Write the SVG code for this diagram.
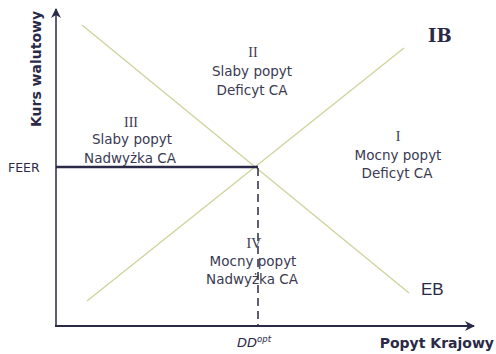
<svg xmlns="http://www.w3.org/2000/svg" width="496" height="354" viewBox="0 0 496 354">
<style>
.q{font-family:"DejaVu Sans",Verdana,sans-serif;font-size:13.5px;fill:#3a3a52;text-anchor:middle}
.r{font-family:"Liberation Serif","Times New Roman",serif;font-size:14px;fill:#3a3a52;text-anchor:middle}
.curve{stroke:#cfd29a;stroke-width:1.3;fill:none}
.ax{stroke-width:2;fill:none}
.lbl{font-family:"DejaVu Sans",Verdana,sans-serif;fill:#2a2a48}
</style>
<defs>
<marker id="ah" viewBox="0 0 10 10" refX="9" refY="5" markerWidth="10" markerHeight="10" markerUnits="userSpaceOnUse" orient="auto">
<path d="M0,0 L10,5 L0,10 L3,5 Z" fill="#2a2a48"/>
</marker>
</defs>
<rect width="496" height="354" fill="#ffffff"/>
<g id="connectors">
<line id="y-axis" class="ax" x1="56" y1="327" x2="56" y2="9" stroke="#5e5e7a" marker-end="url(#ah)"/>
<line id="x-axis" class="ax" x1="55" y1="326" x2="474" y2="326" stroke="#2a2a48" marker-end="url(#ah)"/>
<line id="EB" class="curve" x1="82" y1="25" x2="409" y2="293"/>
<line id="IB" class="curve" x1="87" y1="301" x2="404" y2="48"/>
<line id="feer-line" x1="56" y1="167" x2="258" y2="167" stroke="#2a2a48" stroke-width="2.5"/>
<line id="dd-line" x1="258" y1="168" x2="258" y2="326" stroke="#2a2a48" stroke-width="1.5" stroke-dasharray="8,5"/>
</g>
<g id="axis-labels">
<text class="lbl" font-weight="bold" font-size="14" text-anchor="middle" transform="translate(41,69) rotate(-90)">Kurs walutowy</text>
<text class="lbl" font-weight="bold" font-size="14" x="494" y="348" text-anchor="end">Popyt Krajowy</text>
<text class="lbl" font-size="12.5" x="8" y="172" fill="#333344">FEER</text>
<text class="lbl" x="237" y="347" font-size="13" font-style="italic">DD<tspan font-size="8.5" dy="-5">opt</tspan></text>
</g>
<g id="label-IB"><text x="428" y="42" font-family="'DejaVu Serif','Liberation Serif',serif" font-weight="bold" font-size="18" fill="#2a2a48">IB</text></g>
<g id="label-EB"><text x="421" y="295" font-family="'Liberation Sans',Arial,sans-serif" font-size="17" fill="#2a2a48">EB</text></g>
<g id="q1">
<text class="r" x="398" y="141">I</text>
<text class="q" x="398" y="160">Mocny popyt</text>
<text class="q" x="397" y="178">Deficyt CA</text>
</g>
<g id="q2">
<text class="r" x="253" y="57">II</text>
<text class="q" x="252" y="76">Slaby popyt</text>
<text class="q" x="252" y="95">Deficyt CA</text>
</g>
<g id="q3">
<text class="r" x="131" y="127">III</text>
<text class="q" x="132" y="144">Slaby popyt</text>
<text class="q" x="130" y="163">Nadwyżka CA</text>
</g>
<g id="q4">
<text class="r" x="254" y="248">IV</text>
<text class="q" x="253" y="266">Mocny popyt</text>
<text class="q" x="252" y="284">Nadwyżka CA</text>
</g>
</svg>
